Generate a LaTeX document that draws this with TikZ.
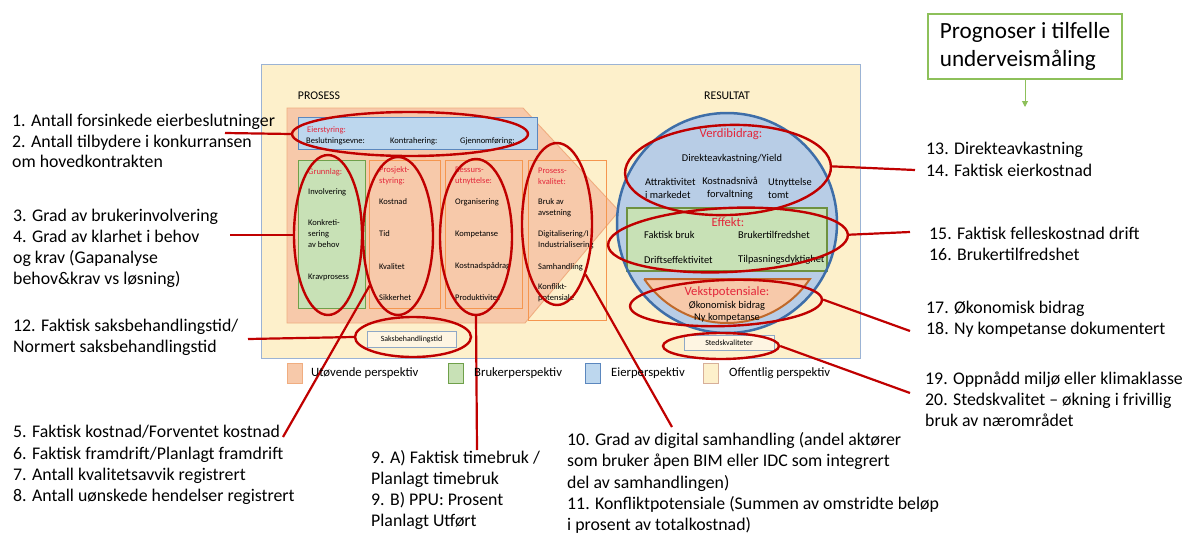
\documentclass[tikz,border=0pt]{standalone}
\usepackage{fontspec}
\setmainfont{Carlito}
\usetikzlibrary{shapes.geometric,arrows.meta}

\definecolor{bgyellow}{HTML}{FDF0CB}
\definecolor{bgborder}{HTML}{9BB3D4}
\definecolor{orangefill}{HTML}{F7C9AA}
\definecolor{orangeline}{HTML}{F0AD80}
\definecolor{boxline}{HTML}{F5964F}
\definecolor{greenfill}{HTML}{C8E1B6}
\definecolor{greenline}{HTML}{6FA04A}
\definecolor{effline}{HTML}{6E9140}
\definecolor{eierfill}{HTML}{BDD7EE}
\definecolor{eierline}{HTML}{5B87BE}
\definecolor{circfill}{HTML}{B8CDE6}
\definecolor{circline}{HTML}{3E6EA8}
\definecolor{vekstline}{HTML}{C0692A}
\definecolor{redtext}{HTML}{E3263A}
\definecolor{ringred}{HTML}{C00000}
\definecolor{progline}{HTML}{8DC05A}
\definecolor{tagfill}{HTML}{FEF5E2}
\definecolor{tagline}{HTML}{8FA8C6}

\tikzset{
  ring/.style={ellipse, draw=ringred, line width=2.4pt, inner sep=0pt},
  lead/.style={draw=ringred, line width=2.2pt},
  lbl/.style={anchor=west, align=left, inner sep=0pt,
              font=\fontsize{17.8}{21.3}\selectfont},
  small/.style={anchor=west, align=left, inner sep=0pt,
                font=\fontsize{8.5}{11}\selectfont},
  head/.style={small, text=redtext},
  mid/.style={inner sep=0pt, font=\fontsize{10.4}{13}\selectfont},
  big/.style={inner sep=0pt, text=redtext, font=\fontsize{12.7}{15}\selectfont},
  tagbox/.style={draw=tagline, fill=tagfill, line width=0.9pt, inner sep=0pt,
                 font=\fontsize{7.9}{9}\selectfont},
  legsq/.style={minimum width=15pt, minimum height=20pt, inner sep=0pt, line width=0.8pt},
  legtxt/.style={anchor=west, inner sep=0pt, font=\fontsize{12.7}{15}\selectfont},
  colhead/.style={inner sep=0pt, font=\fontsize{11.8}{14}\selectfont}
}

\begin{document}
\begin{tikzpicture}[x=1pt,y=-1pt]
\useasboundingbox (0,0) rectangle (1187,533);
\fill[white] (0,0) rectangle (1187,533);

% ---------- public perspective frame ----------
\draw[fill=bgyellow, draw=bgborder, line width=0.9pt] (261,64) rectangle (860,358);
\node[colhead] (prosess) at (319,96) {PROSESS};
\node[colhead] (resultat) at (727,96) {RESULTAT};

% ---------- process arrow ----------
\draw[fill=orangefill, draw=orangeline, line width=0.9pt]
  (287,108) -- (523,108) -- (619,211) -- (525,323) -- (287,323) -- cycle;

% owner steering bar
\draw[fill=eierfill, draw=eierline, line width=0.9pt] (298,117) rectangle (537,149);
\node[head] (eierhd) at (307,130) {Eierstyring:};
\node[small] (besl) at (306,141) {Beslutningsevne:};
\node[small] (kontr) at (390,141) {Kontrahering:};
\node[small] (gjenn) at (460,141) {Gjennomføring:};

% columns
\draw[fill=greenfill, draw=greenline, line width=0.9pt] (298,160) rectangle (365,308);
\draw[fill=orangefill, draw=boxline, line width=0.9pt] (369,160) rectangle (440,308);
\draw[fill=orangefill, draw=boxline, line width=0.9pt] (445,160) rectangle (522,308);
\draw[draw=boxline, line width=0.9pt] (528,160) rectangle (606,320);

\node[head] (grhd) at (308,172) {Grunnlag:};
\node[small] (gr1) at (308,192) {Involvering};
\node[small] (gr2) at (308,234) {Konkreti-\\sering\\av behov};
\node[small] (gr3) at (308,277) {Kravprosess};

\node[head] (pshd) at (379,175.5) {Prosjekt-\\styring:};
\node[small] (ps1) at (379,202) {Kostnad};
\node[small] (ps2) at (379,234) {Tid};
\node[small] (ps3) at (379,267) {Kvalitet};
\node[small] (ps4) at (379,298) {Sikkerhet};

\node[head] (ruhd) at (455,175.5) {Ressurs-\\utnyttelse:};
\node[small] (ru1) at (455,202) {Organisering};
\node[small] (ru2) at (455,234) {Kompetanse};
\node[small] (ru3) at (455,266) {Kostnadspådrag};
\node[small] (ru4) at (455,298) {Produktivitet};

\node[head] (pkhd) at (538,176) {Prosess-\\kvalitet:};
\node[small] (pk1) at (538,207.5) {Bruk av\\avsetning};
\node[small] (pk2) at (538,240) {Digitalisering/I\\Industrialisering};
\node[small] (pk3) at (538,267) {Samhandling};
\node[small] (pk4) at (538,292.5) {Konflikt-\\potensiale};

\node[tagbox, minimum width=89pt, minimum height=16pt] (saks) at (411.5,339) {Saksbehandlingstid};

% ---------- result circle ----------
\draw[fill=circfill, draw=none] (727,223) circle (110);
\draw[fill=greenfill, draw=effline, line width=2pt] (627,208) rectangle (827,271);
\draw[fill=orangefill, draw=vekstline, line width=2pt]
  (644.1,279) -- (809.9,279) arc[start angle=34.06, end angle=145.94, radius=100] -- cycle;
\draw[draw=circline, line width=2.5pt] (727,223) circle (110);

\node[big] (verdi) at (731,134) {Verdibidrag:};
\node[mid] (yield) at (732,159) {Direkteavkastning/Yield};
\node[mid, anchor=west, align=left] (attr) at (645,188.5) {Attraktivitet\\i markedet};
\node[mid, align=center] (kostn) at (730,188.5) {Kostnadsnivå\\forvaltning};
\node[mid, anchor=west, align=left] (utn) at (768,188.5) {Utnyttelse\\tomt};

\node[big] (effekt) at (728,222) {Effekt:};
\node[mid, anchor=west] (bruk) at (644,235) {Faktisk bruk};
\node[mid, anchor=west] (tilfr) at (738,235) {Brukertilfredshet};
\node[mid, anchor=west] (drift) at (644,260) {Driftseffektivitet};
\node[mid, anchor=west] (tilp) at (738,260) {Tilpasningsdyktighet};

\node[big] (vekst) at (727,292) {Vekstpotensiale:};
\node[mid] (okon) at (727,306) {Økonomisk bidrag};
\node[mid] (nykomp) at (727,318) {Ny kompetanse};

\node[tagbox, minimum width=90pt, minimum height=15pt] (sted) at (729,343) {Stedskvaliteter};

% ---------- measurement rings ----------
\node[ring, minimum width=236pt, minimum height=44pt] (e1) at (410,134) {};
\node[ring, minimum width=68pt, minimum height=160pt] (e2) at (328,235) {};
\node[ring, minimum width=70pt, minimum height=158pt] (e3) at (398,236) {};
\node[ring, minimum width=72pt, minimum height=156pt] (e4) at (476,237) {};
\node[ring, minimum width=70pt, minimum height=162pt] (e5) at (557,224) {};
\node[ring, minimum width=116pt, minimum height=40pt] (e6) at (413,337) {};
\node[ring, minimum width=206pt, minimum height=90pt, rotate=2] (e7) at (728,170) {};
\node[ring, minimum width=240pt, minimum height=64pt, rotate=2.5] (e8) at (728,240) {};
\node[ring, minimum width=192pt, minimum height=46pt, rotate=2] (e9) at (726,303) {};
\node[ring, minimum width=116pt, minimum height=26pt] (e10) at (721,346) {};

% ---------- indicator labels ----------
\node[lbl, font=\fontsize{17.8}{20.6}\selectfont] (l1) at (12,141)
  {1. Antall forsinkede eierbeslutninger\\2. Antall tilbydere i konkurransen\\om hovedkontrakten};
\node[lbl, font=\fontsize{17.8}{21.1}\selectfont] (l3) at (13,248.5)
  {3. Grad av brukerinvolvering\\4. Grad av klarhet i behov\\og krav (Gapanalyse\\behov\&krav vs løsning)};
\node[lbl] (l12) at (13,337.5)
  {12. Faktisk saksbehandlingstid/\\Normert saksbehandlingstid};
\node[lbl] (l5) at (13,465)
  {5. Faktisk kostnad/Forventet kostnad\\6. Faktisk framdrift/Planlagt framdrift\\7. Antall kvalitetsavvik registrert\\8. Antall uønskede hendelser registrert};
\node[lbl, font=\fontsize{17.8}{20.7}\selectfont] (l9) at (371,490)
  {9. A) Faktisk timebruk /\\Planlagt timebruk\\9. B) PPU: Prosent\\Planlagt Utført};
\node[lbl] (l10) at (567,483)
  {10. Grad av digital samhandling (andel aktører\\som bruker åpen BIM eller IDC som integrert\\del av samhandlingen)\\11. Konfliktpotensiale (Summen av omstridte beløp\\i prosent av totalkostnad)};
\node[lbl] (l13) at (926,159.5) {13. Direkteavkastning\\14. Faktisk eierkostnad};
\node[lbl] (l15) at (929,244) {15. Faktisk felleskostnad drift\\16. Brukertilfredshet};
\node[lbl] (l17) at (926,319.5) {17. Økonomisk bidrag\\18. Ny kompetanse dokumentert};
\node[lbl, font=\fontsize{17.8}{20.8}\selectfont] (l19) at (925,399.5)
  {19. Oppnådd miljø eller  klimaklasse\\20. Stedskvalitet -- økning i frivillig\\bruk av nærområdet};

% ---------- leader lines ----------
\coordinate (c1) at (225,133);
\coordinate (c2) at (230,235);
\coordinate (c3) at (248,339);
\coordinate (c4) at (283,437);
\coordinate (c5) at (477,450);
\coordinate (c6) at (672,427);
\coordinate (c7) at (915,170);
\coordinate (c8) at (910,232);
\coordinate (c9) at (910,331);
\coordinate (c10) at (910,393);

\draw[lead] (c1) -- (e1.west);
\draw[lead] (c2) -- (e2.west);
\draw[lead] (c3) -- (e6.west);
\draw[lead] (c4) -- (e3);
\draw[lead] (c5) -- (e4.south);
\draw[lead] (c6) -- (e5);
\draw[lead] (c7) -- (e7.east);
\draw[lead] (c8) -- (e8.east);
\draw[lead] (c9) -- (e9.east);
\draw[lead] (c10) -- (e10.east);

% ---------- legend ----------
\node[legsq, fill=orangefill, draw=orangeline] (lg1) at (295,373.5) {};
\node[legtxt] (lt1) at (311,373.5) {Utøvende  perspektiv};
\node[legsq, fill=greenfill, draw=greenline] (lg2) at (456,373.5) {};
\node[legtxt] (lt2) at (474,373.5) {Brukerperspektiv};
\node[legsq, fill=eierfill, draw=eierline] (lg3) at (593,373.5) {};
\node[legtxt] (lt3) at (611,373.5) {Eierperspektiv};
\node[legsq, fill=bgyellow, draw=orangeline!70!bgborder] (lg4) at (711,373.5) {};
\node[legtxt] (lt4) at (729,373.5) {Offentlig perspektiv};

% ---------- forecast note ----------
\node[draw=progline, line width=1.2pt, minimum width=194pt, minimum height=65pt,
      inner sep=0pt, align=left, font=\fontsize{23.2}{28.8}\selectfont] (prog) at (1025,46.5)
  {Prognoser i tilfelle\\underveismåling};
\coordinate (progend) at (1025,107);
\draw[draw=progline, line width=1pt, -{Triangle[length=6pt,width=6pt]}] (prog.south) -- (progend);

\end{tikzpicture}
\end{document}
